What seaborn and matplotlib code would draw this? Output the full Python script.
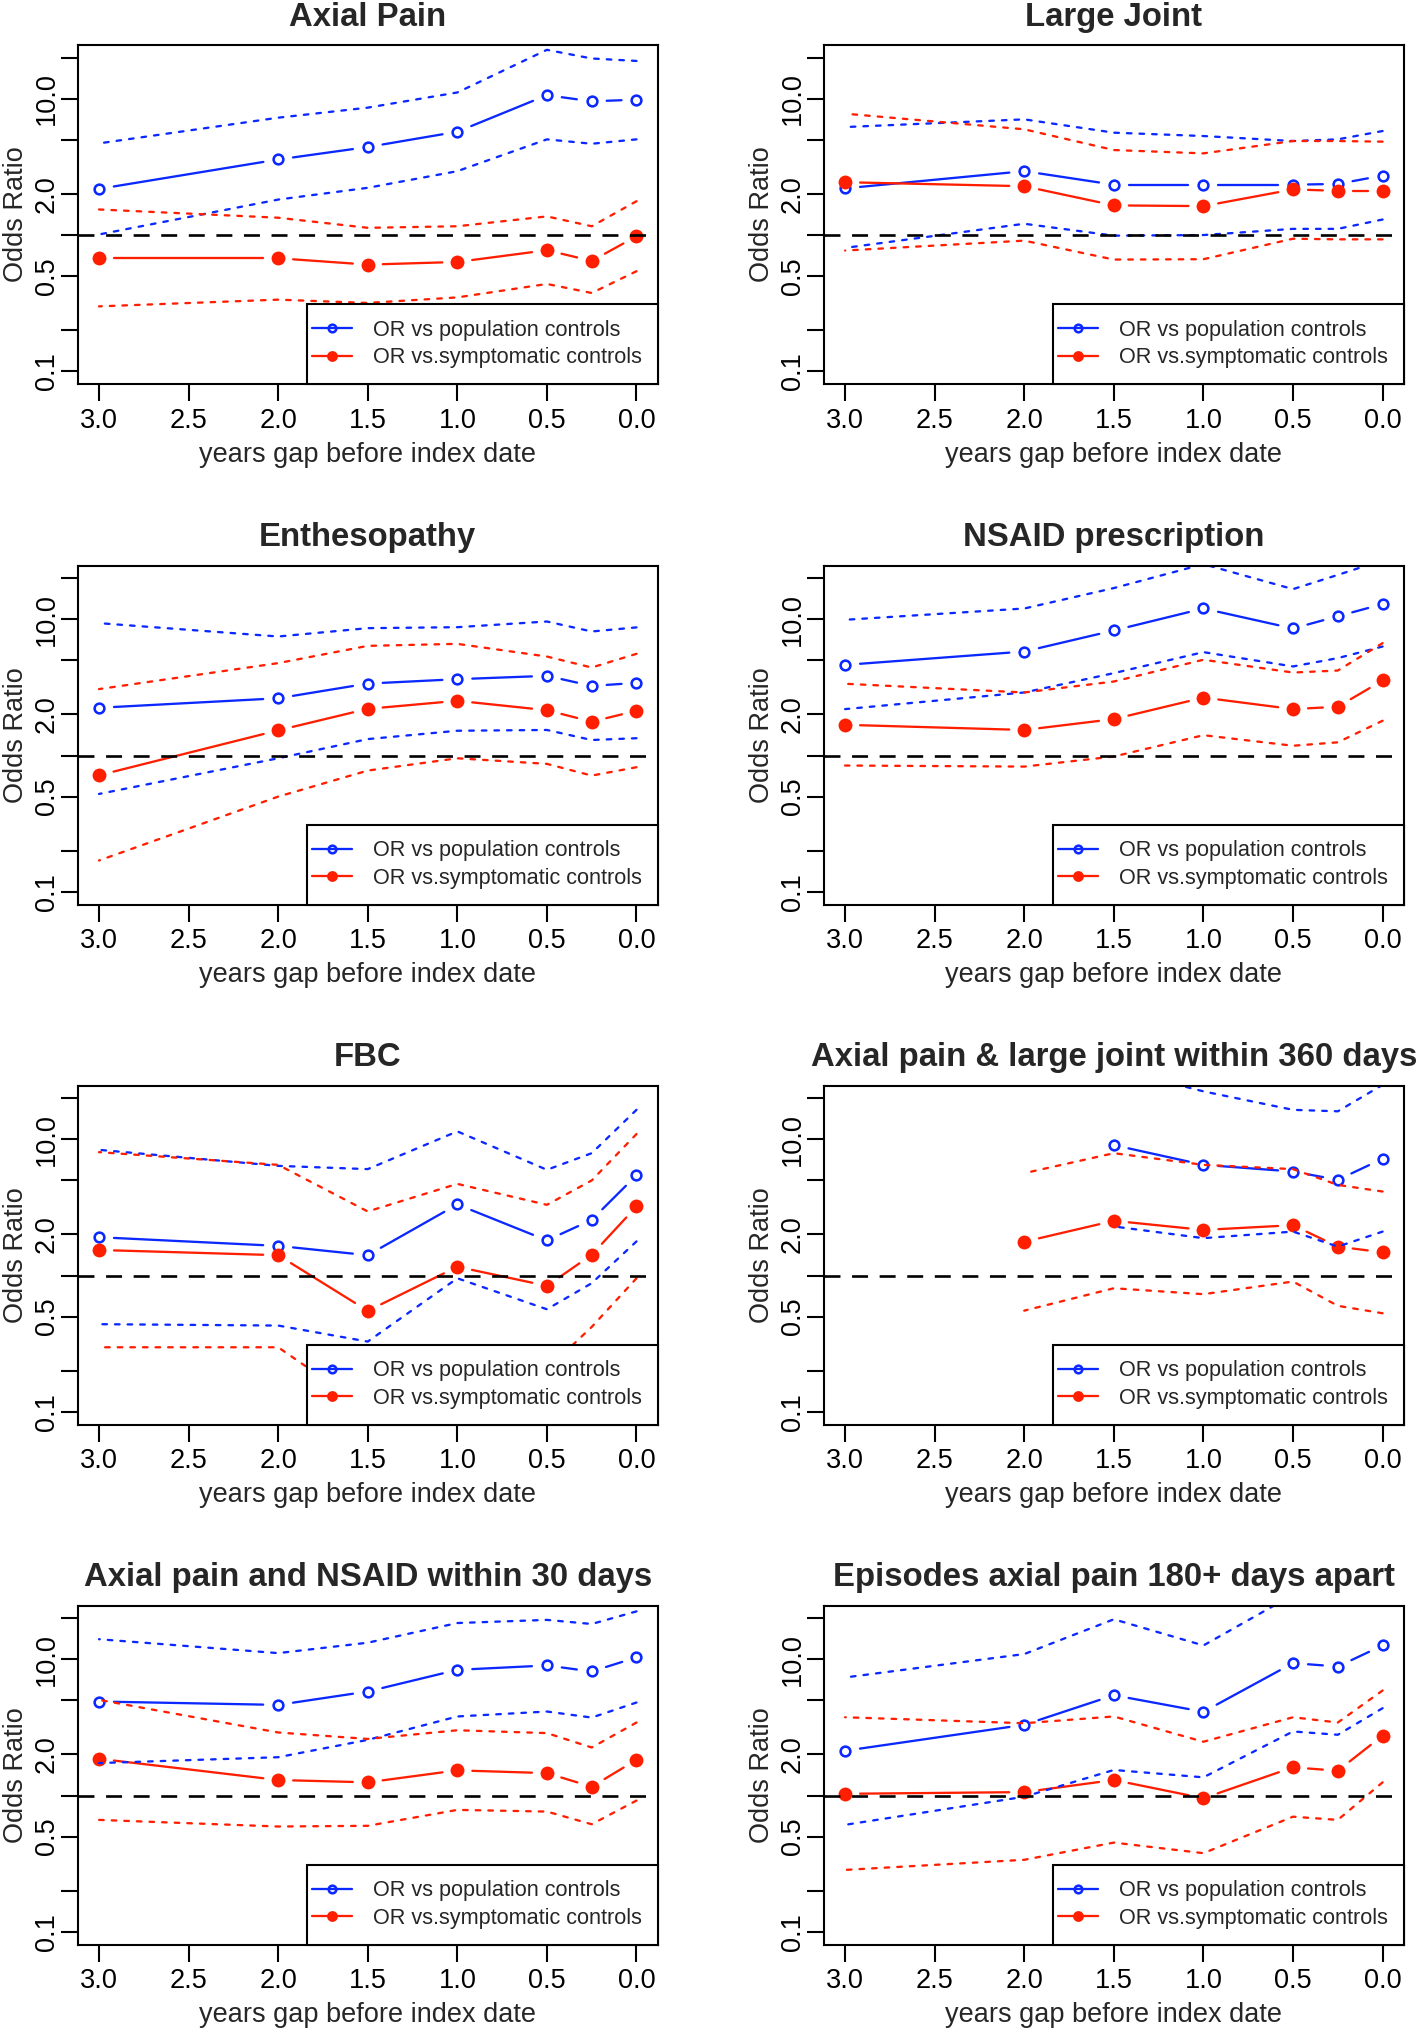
import numpy as np
import pandas as pd
import matplotlib
matplotlib.use("Agg")
import matplotlib.pyplot as plt
from matplotlib.lines import Line2D
from matplotlib.legend_handler import HandlerLine2D
from matplotlib.ticker import NullLocator
import seaborn as sns

# ---------------- data ----------------
years = [3.0, 2.0, 1.5, 1.0, 0.5, 0.25, 0.0]
xtick_values = [3.0, 2.5, 2.0, 1.5, 1.0, 0.5, 0.0]
xtick_labels = ["3.0", "2.5", "2.0", "1.5", "1.0", "0.5", "0.0"]
ytick_values = [0.1, 0.2, 0.5, 1, 2, 5, 10, 20]
ytick_labels = ["0.1", "", "0.5", "", "2.0", "", "10.0", ""]
legend_labels = ["OR vs population controls", "OR vs.symptomatic controls"]
titles = ["Axial Pain", "Large Joint", "Enthesopathy", "NSAID prescription", "FBC",
          "Axial pain & large joint within 360 days",
          "Axial pain and NSAID within 30 days",
          "Episodes axial pain 180+ days apart"]
nan = float("nan")

axial_pop_or = [2.18, 3.58, 4.42, 5.72, 10.6, 9.56, 9.83]
axial_pop_hi = [4.70, 7.25, 8.59, 11.1, 22.8, 19.7, 18.9]
axial_pop_lo = [1.01, 1.82, 2.22, 2.94, 5.03, 4.67, 5.03]
axial_sym_or = [0.676, 0.676, 0.607, 0.635, 0.774, 0.646, 0.98]
axial_sym_hi = [1.54, 1.34, 1.13, 1.16, 1.37, 1.16, 1.77]
axial_sym_lo = [0.300, 0.336, 0.318, 0.349, 0.438, 0.376, 0.543]

joint_pop_or = [2.20, 2.94, 2.34, 2.34, 2.34, 2.37, 2.73]
joint_pop_hi = [6.19, 7.05, 5.63, 5.32, 4.89, 5.03, 5.79]
joint_pop_lo = [0.805, 1.21, 0.99, 1.00, 1.11, 1.11, 1.30]
joint_sym_or = [2.44, 2.28, 1.65, 1.63, 2.16, 2.11, 2.11]
joint_sym_hi = [7.76, 5.96, 4.20, 3.97, 4.89, 4.89, 4.84]
joint_sym_lo = [0.77, 0.91, 0.661, 0.665, 0.94, 0.93, 0.93]

enth_pop_or = [2.24, 2.63, 3.37, 3.63, 3.84, 3.24, 3.41]
enth_pop_hi = [9.35, 7.46, 8.59, 8.73, 9.61, 8.12, 8.70]
enth_pop_lo = [0.523, 0.955, 1.32, 1.52, 1.54, 1.30, 1.34]
enth_sym_or = [0.717, 1.53, 2.20, 2.52, 2.15, 1.77, 2.13]
enth_sym_hi = [3.07, 4.76, 6.37, 6.59, 5.32, 4.42, 5.57]
enth_sym_lo = [0.170, 0.50, 0.776, 0.955, 0.869, 0.713, 0.821]

nsaid_pop_or = [4.62, 5.79, 8.26, 11.97, 8.54, 10.5, 12.9]
nsaid_pop_hi = [9.89, 11.97, 16.9, 25.3, 16.6, 21.1, 27.0]
nsaid_pop_lo = [2.19, 2.90, 4.02, 5.73, 4.50, 5.18, 6.30]
nsaid_sym_or = [1.68, 1.54, 1.85, 2.66, 2.19, 2.28, 3.55]
nsaid_sym_hi = [3.36, 2.90, 3.49, 5.04, 4.06, 4.20, 6.67]
nsaid_sym_lo = [0.845, 0.83, 0.984, 1.41, 1.18, 1.25, 1.80]

fbc_pop_or = [1.91, 1.65, 1.41, 3.32, 1.81, 2.56, 5.44]
fbc_pop_hi = [8.35, 6.37, 6.03, 11.4, 5.96, 7.89, 16.4]
fbc_pop_lo = [0.44, 0.43, 0.328, 0.955, 0.566, 0.879, 1.78]
fbc_sym_or = [1.54, 1.41, 0.551, 1.16, 0.84, 1.42, 3.21]
fbc_sym_hi = [8.03, 6.48, 2.95, 4.70, 3.30, 4.98, 10.9]
fbc_sym_lo = [0.298, 0.298, 0.105, 0.29, 0.205, 0.42, 0.955]

apl_pop_or = [nan, nan, 9.04, 6.48, 5.79, 5.03, 7.18]
apl_pop_hi = [nan, nan, 33.0, 22.4, 16.4, 16.0, 25.0]
apl_pop_lo = [nan, nan, 2.29, 1.88, 2.10, 1.63, 2.10]
apl_sym_or = [nan, 1.77, 2.52, 2.16, 2.34, 1.63, 1.48]
apl_sym_hi = [nan, 5.63, 7.89, 6.48, 6.03, 4.62, 4.13]
apl_sym_lo = [nan, 0.553, 0.807, 0.73, 0.904, 0.60, 0.529]

apn_pop_or = [4.89, 4.62, 5.79, 8.35, 8.99, 8.12, 10.3]
apn_pop_hi = [14.0, 11.07, 13.2, 18.4, 19.4, 18.1, 22.4]
apn_pop_lo = [1.73, 1.91, 2.56, 3.80, 4.13, 3.73, 4.81]
apn_sym_or = [1.86, 1.30, 1.25, 1.53, 1.46, 1.16, 1.83]
apn_sym_hi = [5.03, 2.90, 2.60, 3.01, 2.87, 2.25, 3.43]
apn_sym_lo = [0.663, 0.593, 0.60, 0.785, 0.763, 0.616, 0.919]

epi_pop_or = [2.13, 3.30, 5.44, 4.11, 9.35, 8.83, 12.6]
epi_pop_hi = [7.34, 10.9, 19.6, 12.6, 29.6, 28.0, 36.0]
epi_pop_lo = [0.61, 0.98, 1.54, 1.36, 2.95, 2.79, 4.37]
epi_sym_or = [1.03, 1.06, 1.30, 0.955, 1.61, 1.52, 2.75]
epi_sym_hi = [3.75, 3.39, 3.80, 2.48, 3.75, 3.43, 5.89]
epi_sym_lo = [0.285, 0.338, 0.452, 0.378, 0.70, 0.663, 1.25]

panel_series = [
    (axial_pop_or, axial_pop_lo, axial_pop_hi, axial_sym_or, axial_sym_lo, axial_sym_hi),
    (joint_pop_or, joint_pop_lo, joint_pop_hi, joint_sym_or, joint_sym_lo, joint_sym_hi),
    (enth_pop_or, enth_pop_lo, enth_pop_hi, enth_sym_or, enth_sym_lo, enth_sym_hi),
    (nsaid_pop_or, nsaid_pop_lo, nsaid_pop_hi, nsaid_sym_or, nsaid_sym_lo, nsaid_sym_hi),
    (fbc_pop_or, fbc_pop_lo, fbc_pop_hi, fbc_sym_or, fbc_sym_lo, fbc_sym_hi),
    (apl_pop_or, apl_pop_lo, apl_pop_hi, apl_sym_or, apl_sym_lo, apl_sym_hi),
    (apn_pop_or, apn_pop_lo, apn_pop_hi, apn_sym_or, apn_sym_lo, apn_sym_hi),
    (epi_pop_or, epi_pop_lo, epi_pop_hi, epi_sym_or, epi_sym_lo, epi_sym_hi),
]

# ---------------- style ----------------
sns.set_style("ticks")
plt.rcParams["font.family"] = ["Liberation Sans", "DejaVu Sans"]

BLUE = "#0A28FF"
RED = "#FF1E00"
LW = 1.65
DASH_LW = 1.9
GAP_PX = 15.0
DOT = (0, (2.0, 3.5))
DASH = (0, (6.05, 4.4))
POP_MARK = dict(marker="o", ms=7.0, mfc="none", mec=BLUE, mew=1.85)
SYM_MARK = dict(marker="o", ms=10.0, mfc=RED, mec=RED, mew=0)

W, H = 1418, 2030
fig = plt.figure(figsize=(W / 100, H / 100), dpi=100)
fig.patch.set_facecolor("white")

ax_w_px, ax_h_px = 580.5, 339.0
col_left_px = [77.5, 823.6]
row_top_px = [45.0, 565.5, 1085.5, 1605.5]
YLIM = (10 ** -1.092, 10 ** 1.3933)
XLIM = (3.12, -0.12)


def draw_or_series(ax, x, y, color, mark, z):
    xy = np.column_stack([np.asarray(x, float), np.asarray(y, float)])
    xy = xy[~np.isnan(xy).any(axis=1)]
    pix = ax.transData.transform(xy)
    inv = ax.transData.inverted()
    for p0, p1 in zip(pix[:-1], pix[1:]):
        d = p1 - p0
        L = np.hypot(d[0], d[1])
        if L <= 2 * GAP_PX:
            continue
        u = d / L
        seg = inv.transform(np.vstack([p0 + u * GAP_PX, p1 - u * GAP_PX]))
        ax.plot(seg[:, 0], seg[:, 1], color=color, lw=LW,
                solid_capstyle="round", zorder=z)
    ax.plot(xy[:, 0], xy[:, 1], ls="none", zorder=z + 0.05, **mark)


def draw_ci(ax, x, y, color, z):
    df = pd.DataFrame({"years": x, "value": y})
    sns.lineplot(data=df, x="years", y="value", ax=ax, color=color, lw=LW,
                 estimator=None, errorbar=None, legend=False, zorder=z)
    ax.lines[-1].set_linestyle(DOT)
    ax.lines[-1].set_dash_capstyle("round")


for i, (title, series) in enumerate(zip(titles, panel_series)):
    r, c = divmod(i, 2)
    left = col_left_px[c] / W
    bottom = 1 - (row_top_px[r] + ax_h_px) / H
    ax = fig.add_axes([left, bottom, ax_w_px / W, ax_h_px / H])
    ax.set_yscale("log")
    ax.set_xlim(*XLIM)
    ax.set_ylim(*YLIM)
    ax.grid(False)

    pop_or, pop_lo, pop_hi, sym_or, sym_lo, sym_hi = series
    draw_or_series(ax, years, pop_or, BLUE, POP_MARK, 2.0)
    draw_or_series(ax, years, sym_or, RED, SYM_MARK, 2.1)
    draw_ci(ax, years, pop_hi, BLUE, 2.3)
    draw_ci(ax, years, pop_lo, BLUE, 2.3)
    draw_ci(ax, years, sym_hi, RED, 2.31)
    draw_ci(ax, years, sym_lo, RED, 2.31)
    ax.axhline(1.0, color="black", lw=DASH_LW, linestyle=DASH, zorder=2.4)

    ax.set_xlim(*XLIM)
    ax.set_ylim(*YLIM)
    ax.set_xticks(xtick_values, xtick_labels)
    ax.set_yticks(ytick_values, ytick_labels)
    ax.yaxis.set_minor_locator(NullLocator())
    ax.xaxis.set_minor_locator(NullLocator())
    ax.tick_params(axis="both", direction="out", length=12.2, width=1.5,
                   color="black", labelsize=19.5, labelcolor="black")
    ax.tick_params(axis="x", pad=5)
    ax.tick_params(axis="y", pad=0.5)
    for tk in ax.yaxis.get_major_ticks():
        tk.label1.set_rotation(90)
        tk.label1.set_va("center")

    for s in ax.spines.values():
        s.set_visible(True)
        s.set_linewidth(1.5)
        s.set_color("black")

    ax.set_title(title, fontsize=23.7, fontweight="bold", pad=13.7)
    ax.set_xlabel("years gap before index date", fontsize=19.5)
    ax.xaxis.set_label_coords(0.5, -(461.5 - 384) / ax_h_px)
    ax.xaxis.label.set_va("baseline")
    ax.set_ylabel("Odds Ratio", fontsize=19.5)
    ax.yaxis.set_label_coords(-(77.5 - 23.0) / ax_w_px, 0.5)
    ax.yaxis.label.set_va("baseline")

    handles = [
        Line2D([], [], color=BLUE, lw=LW, **POP_MARK),
        Line2D([], [], color=RED, lw=LW, **SYM_MARK),
    ]
    leg = ax.legend(handles, legend_labels, loc="lower right", borderaxespad=0,
                    fancybox=False, frameon=True, edgecolor="black",
                    facecolor="white", framealpha=1, fontsize=15.6,
                    handlelength=1.35, handletextpad=0.97, borderpad=0.73,
                    labelspacing=0.29, markerscale=0.78, numpoints=1,
                    handler_map={Line2D: HandlerLine2D(xpad=-0.5)})
    leg.get_frame().set_linewidth(1.5)
    leg.set_zorder(10)

fig.savefig("out.png", dpi=100, facecolor="white")
